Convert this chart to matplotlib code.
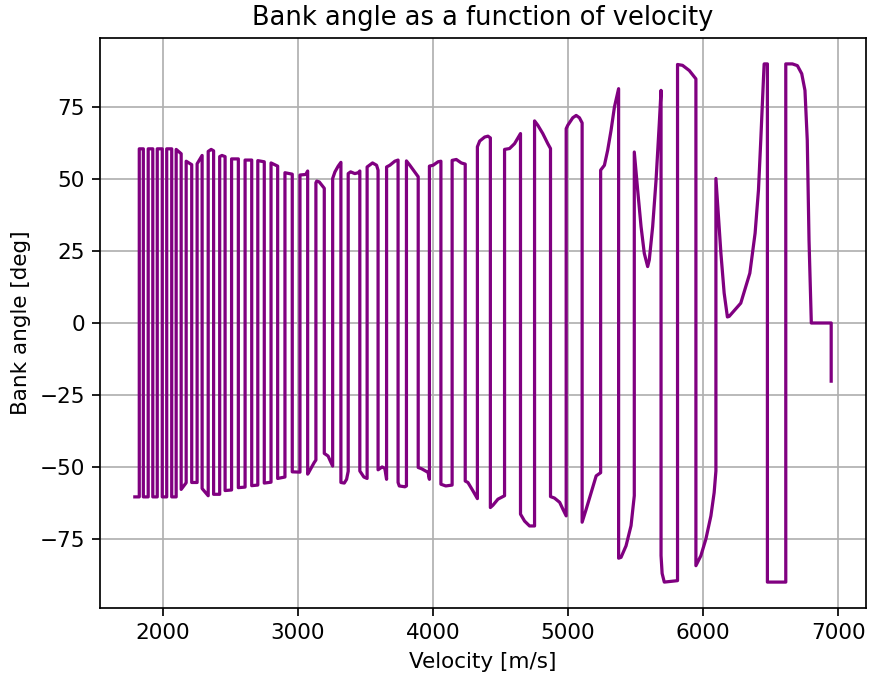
import matplotlib
matplotlib.use("Agg")
import matplotlib.pyplot as plt

# Bank-angle history, listed in order of decreasing velocity (time order)
velocity = [
    6948, 6948, 6801, 6784, 6771, 6754, 6730, 6698, 6661, 6612,
    6612, 6476,
    6476, 6452, 6447, 6427, 6410, 6385, 6346, 6279, 6193, 6180, 6156, 6132, 6112, 6095,
    6095, 6082, 6058, 6021, 5984, 5947,
    5947, 5898, 5848, 5811,
    5811, 5713, 5697, 5689,
    5689, 5676, 5652, 5627, 5602, 5590, 5565, 5541, 5516, 5491,
    5491, 5467, 5430, 5393, 5375,
    5375, 5344, 5319, 5294, 5270, 5242,
    5242, 5209, 5172, 5135, 5105,
    5105, 5085, 5061, 5036, 4999, 4987,
    4987, 4963, 4939, 4900, 4871,
    4871, 4851, 4814, 4777, 4753,
    4753, 4716, 4679, 4649,
    4649, 4605, 4568, 4531,
    4531, 4482, 4445, 4426,
    4426, 4408, 4384, 4347, 4330,
    4330, 4297, 4260, 4240,
    4240, 4211, 4174, 4143,
    4143, 4096, 4060,
    4060, 4039, 4002, 3975,
    3975, 3965, 3916, 3892,
    3892, 3866, 3830, 3805,
    3805, 3794, 3752, 3743,
    3743, 3719, 3682, 3658,
    3658, 3645, 3625, 3595,
    3595, 3584, 3554, 3514,
    3514, 3490, 3460,
    3460, 3448, 3423, 3392, 3374,
    3374, 3362, 3345, 3320,
    3320, 3300, 3276, 3259,
    3259, 3245, 3225, 3197,
    3197, 3185, 3160, 3141, 3135,
    3135, 3122, 3082, 3074,
    3074, 3068, 3060, 3017,
    3017, 2960,
    2960, 2906,
    2906, 2852,
    2852, 2803,
    2803, 2753,
    2753, 2705,
    2705, 2660,
    2660, 2611,
    2611, 2561,
    2561, 2511,
    2511, 2463,
    2463, 2440, 2423,
    2423, 2378,
    2378, 2360, 2338,
    2338, 2293,
    2293, 2256,
    2256, 2216,
    2216, 2175,
    2175, 2138,
    2138, 2101,
    2101, 2068,
    2068, 2031,
    2031, 1998,
    1998, 1961,
    1961, 1928,
    1928, 1894,
    1894, 1858,
    1858, 1828,
    1828, 1795,
]

bank_angle = [
    -20.2, 0, 0, 28.8, 63.5, 80.8, 86.6, 89.4, 90, 90,
    -90, -90,
    90, 90, 85, 63.5, 46.2, 31.2, 17.3, 6.9, 2.3, 2.1, 10.4, 24.2, 38.1, 50.2,
    -51.4, -58.9, -67, -75, -80.8, -84.3,
    84.8, 87.7, 89.5, 89.8,
    -89.5, -90, -87, -80.8,
    80.8, 69.3, 49.6, 33.5, 21.9, 19.6, 24.2, 33.5, 46.2, 59.4,
    -60, -70.4, -77.4, -81.4, -81.7,
    81.4, 75, 66.9, 60, 54.8, 53.1,
    -52, -53.1, -58.9, -64.7, -69.2,
    69.5, 71.3, 72.1, 71.3, 68.7, 67.5,
    -67, -64.7, -62.3, -60.8, -60.3,
    60.6, 62.3, 65.8, 68.7, 70.2,
    -70.5, -70.5, -68.8, -66.4,
    65.8, 62.3, 60.6, 60.3,
    -60, -61.2, -63.3, -64.1,
    64.3, 64.9, 64.6, 63.2, 61.2,
    -61, -58.3, -55.4, -54.9,
    55.2, 55.6, 56.8, 56.5,
    -56.3, -56.6, -56,
    56.2, 56, 54.8, 54.5,
    -54.3, -51.9, -50.6, -50.2,
    50.8, 52.5, 54.8, 56.3,
    -56.6, -56.9, -56.6, -55.4,
    56.6, 56.2, 54.8, 54.2,
    -54.3, -50.5, -50, -51,
    53.1, 54.8, 55.6, 54.2,
    -54, -53.5, -51.4,
    52.8, 52.2, 51.9, 52.5, 51.9,
    -51.5, -54.3, -55.6, -55.4,
    55.8, 54.5, 52.5, 50.2,
    -49.7, -48.3, -46.2, -45.3,
    46.8, 47.5, 49, 49.3, 48.7,
    -47.6, -48.5, -51.9, -52.5,
    52.8, 52.3, 51.6, 51.4,
    -51.8, -51.7,
    51.7, 52.2,
    -53.5, -54,
    54.5, 55.6,
    -55.3, -55.6,
    56, 56.4,
    -56.3, -56.5,
    56.6, 56.6,
    -57, -57.2,
    57, 57,
    -58, -58.2,
    57.8, 58.2, 57.8,
    -59.5, -59.5,
    59.8, 60.3, 59.6,
    -60, -57.5,
    58.2, 55.3,
    -55.4, -55.4,
    55, 56.2,
    -55.5, -57.8,
    58.8, 60.3,
    -60.4, -60.4,
    60.5, 60.5,
    -60.4, -60.4,
    60.5, 60.5,
    -60.4, -60.4,
    60.5, 60.5,
    -60.4, -60.4,
    60.5, 60.5,
    -60.4, -60.4,
]

s = 1.544  # scale of the default style
plt.rcParams.update({
    "font.size": 10 * s,
    "lines.linewidth": 1.5 * s,
    "axes.linewidth": 0.8 * s,
    "grid.linewidth": 0.8 * s,
    "xtick.major.size": 3.5 * s,
    "ytick.major.size": 3.5 * s,
    "xtick.major.width": 0.8 * s,
    "ytick.major.width": 0.8 * s,
    "xtick.major.pad": 3.5 * s,
    "ytick.major.pad": 3.5 * s,
    "axes.titlepad": 6.0 * s,
    "axes.labelpad": 4.0 * s,
})

fig = plt.figure(figsize=(8.7, 6.78), dpi=100)
ax = fig.add_axes([100 / 870, 1 - 608 / 678, 766 / 870, 570 / 678])
ax.plot(velocity, bank_angle, color="purple")
ax.set_title("Bank angle as a function of velocity")
ax.set_xlabel("Velocity [m/s]")
ax.set_ylabel("Bank angle [deg]")
ax.grid(True)

fig.savefig("out.png", dpi=100)
